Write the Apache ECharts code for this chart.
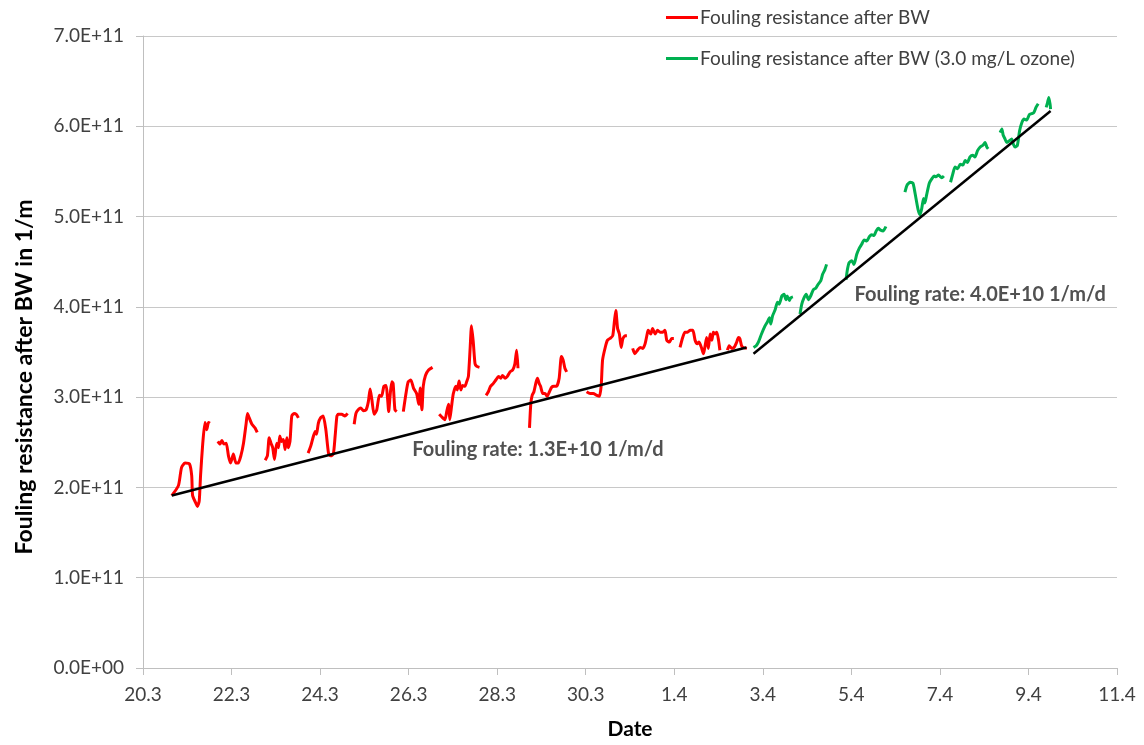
<!DOCTYPE html>
<html><head><meta charset="utf-8">
<script src="https://cdn.jsdelivr.net/npm/echarts@6/dist/echarts.min.js"></script>
<style>html,body{margin:0;padding:0;background:#fff}#c{width:1144px;height:745px}</style>
</head><body><div id="c"></div>
<script>
// x = days since 20.3 (20 March); y values in units of 1E+11 1/m
const UNIT = 1e11;
const xTickLabels = ['20.3','22.3','24.3','26.3','28.3','30.3','1.4','3.4','5.4','7.4','9.4','11.4'];
const yTickLabels = ['0.0E+00','1.0E+11','2.0E+11','3.0E+11','4.0E+11','5.0E+11','6.0E+11','7.0E+11'];
const seriesNames = ['Fouling resistance after BW','Fouling resistance after BW (3.0 mg/L ozone)'];

const red1 = [[0.65,1.91],[0.80,2.02],[0.87,2.22],[0.95,2.27],[1.05,2.26],[1.10,2.13],[1.12,1.91],[1.18,1.84],[1.23,1.79],[1.27,1.85],[1.30,2.13],[1.35,2.49],[1.40,2.72],[1.44,2.64],[1.48,2.72],[1.51,2.71]];
const red2 = [[1.69,2.51],[1.74,2.48],[1.78,2.52],[1.83,2.48],[1.88,2.49],[1.93,2.35],[1.98,2.27],[2.04,2.37],[2.10,2.27],[2.15,2.27],[2.21,2.35],[2.27,2.49],[2.33,2.71],[2.36,2.82],[2.40,2.77],[2.46,2.70],[2.53,2.66],[2.58,2.61]];
const red3 = [[2.76,2.30],[2.81,2.35],[2.85,2.55],[2.89,2.49],[2.93,2.44],[2.97,2.31],[3.02,2.49],[3.06,2.44],[3.09,2.57],[3.13,2.51],[3.17,2.53],[3.21,2.42],[3.25,2.55],[3.28,2.44],[3.32,2.51],[3.36,2.79],[3.41,2.82],[3.46,2.81],[3.51,2.77]];
const red4 = [[3.73,2.38],[3.79,2.46],[3.85,2.57],[3.89,2.62],[3.92,2.59],[3.96,2.71],[4.01,2.77],[4.07,2.79],[4.13,2.64],[4.19,2.38],[4.24,2.35],[4.30,2.37],[4.34,2.57],[4.38,2.79],[4.41,2.81],[4.49,2.81],[4.56,2.79],[4.62,2.82]];
const red5 = [[4.77,2.70],[4.81,2.82],[4.86,2.86],[4.92,2.88],[4.98,2.85],[5.04,2.86],[5.09,2.95],[5.13,3.09],[5.17,2.97],[5.22,2.81],[5.28,2.86],[5.34,3.02],[5.39,3.01],[5.44,3.12],[5.49,3.13],[5.52,3.01],[5.55,2.84],[5.58,3.01],[5.62,3.17],[5.65,3.15],[5.69,2.86],[5.73,2.84]];
const red6 = [[5.88,2.84],[5.94,3.04],[5.99,3.17],[6.05,3.19],[6.11,3.10],[6.18,3.04],[6.23,2.92],[6.26,3.10],[6.30,2.86],[6.33,3.12],[6.38,3.24],[6.45,3.30],[6.54,3.33]];
const red7 = [[6.69,2.81],[6.75,2.78],[6.82,2.75],[6.86,2.84],[6.90,2.92],[6.93,2.75],[6.97,2.90],[7.01,3.04],[7.07,3.12],[7.10,3.08],[7.14,3.18],[7.18,3.08],[7.22,3.13],[7.27,3.12],[7.31,3.17],[7.35,3.23],[7.39,3.55],[7.42,3.79],[7.46,3.61],[7.50,3.37],[7.54,3.34],[7.60,3.33]];
const red8 = [[7.75,3.02],[7.80,3.06],[7.85,3.12],[7.91,3.15],[7.97,3.19],[8.03,3.23],[8.08,3.21],[8.12,3.24],[8.18,3.21],[8.23,3.23],[8.29,3.28],[8.35,3.30],[8.40,3.37],[8.44,3.52],[8.47,3.32]];
const red9 = [[8.73,2.66],[8.76,2.93],[8.79,3.02],[8.83,3.06],[8.88,3.17],[8.91,3.21],[8.95,3.15],[8.98,3.12],[9.03,3.04],[9.08,3.04],[9.13,3.01],[9.18,3.06],[9.23,3.11],[9.28,3.12],[9.34,3.12],[9.40,3.21],[9.45,3.45],[9.49,3.41],[9.53,3.32],[9.57,3.28]];
const red10 = [[10.02,3.06],[10.10,3.04],[10.17,3.04],[10.25,3.02],[10.31,3.01],[10.35,3.13],[10.38,3.41],[10.44,3.55],[10.49,3.63],[10.55,3.65],[10.61,3.68],[10.65,3.85],[10.68,3.96],[10.72,3.76],[10.76,3.70],[10.80,3.55],[10.84,3.65],[10.89,3.68],[10.93,3.68]];
const red11 = [[11.06,3.54],[11.11,3.48],[11.17,3.52],[11.23,3.55],[11.29,3.54],[11.34,3.59],[11.38,3.68],[11.41,3.74],[11.47,3.70],[11.51,3.76],[11.57,3.70],[11.62,3.74],[11.68,3.72],[11.74,3.72],[11.79,3.74],[11.83,3.63],[11.89,3.61],[11.94,3.65],[11.99,3.65]];
const red12 = [[12.13,3.55],[12.19,3.66],[12.24,3.72],[12.30,3.72],[12.36,3.74],[12.42,3.74],[12.47,3.63],[12.52,3.59],[12.56,3.61],[12.62,3.54],[12.66,3.48],[12.69,3.55],[12.73,3.66],[12.77,3.54],[12.81,3.70],[12.85,3.63],[12.88,3.72],[12.92,3.70],[12.96,3.72],[13.00,3.63],[13.03,3.52]];
const red13 = [[13.20,3.52],[13.24,3.57],[13.30,3.54],[13.35,3.55],[13.41,3.61],[13.45,3.66],[13.48,3.65],[13.52,3.57],[13.56,3.55],[13.64,3.54]];

const green1 = [[13.79,3.55],[13.85,3.57],[13.90,3.61],[13.97,3.70],[14.05,3.79],[14.10,3.83],[14.15,3.88],[14.18,3.81],[14.22,3.90],[14.28,3.97],[14.33,4.05],[14.37,4.03],[14.43,4.12],[14.48,4.14],[14.52,4.08],[14.55,4.12],[14.60,4.07],[14.63,4.10],[14.68,4.11]];
const green2 = [[14.84,3.92],[14.88,4.03],[14.93,4.10],[14.98,4.14],[15.03,4.08],[15.08,4.12],[15.14,4.19],[15.20,4.21],[15.25,4.25],[15.31,4.29],[15.35,4.36],[15.40,4.41],[15.44,4.47]];
const green3 = [[15.88,4.30],[15.91,4.41],[15.95,4.49],[16.01,4.51],[16.06,4.47],[16.12,4.58],[16.18,4.65],[16.23,4.69],[16.29,4.74],[16.35,4.73],[16.41,4.78],[16.46,4.80],[16.51,4.79],[16.56,4.84],[16.61,4.87],[16.66,4.85],[16.72,4.84],[16.78,4.89]];
const green4 = [[17.21,5.27],[17.26,5.35],[17.33,5.38],[17.39,5.37],[17.42,5.31],[17.46,5.20],[17.51,5.07],[17.55,5.02],[17.59,5.09],[17.63,5.20],[17.66,5.15],[17.70,5.24],[17.76,5.37],[17.82,5.42],[17.87,5.45],[17.91,5.44],[17.97,5.46],[18.04,5.43],[18.09,5.45]];
const green5 = [[18.24,5.38],[18.29,5.47],[18.34,5.55],[18.40,5.53],[18.46,5.58],[18.52,5.57],[18.57,5.62],[18.62,5.60],[18.68,5.66],[18.74,5.68],[18.79,5.66],[18.85,5.73],[18.91,5.77],[18.97,5.79],[19.02,5.82],[19.06,5.77],[19.09,5.75]];
const green6 = [[19.36,5.93],[19.40,5.97],[19.43,5.90],[19.47,5.86],[19.51,5.82],[19.57,5.84],[19.62,5.86],[19.66,5.80],[19.70,5.77],[19.75,5.79],[19.80,5.95],[19.85,6.04],[19.90,6.08],[19.96,6.07],[20.02,6.13],[20.07,6.14],[20.12,6.15],[20.17,6.21],[20.22,6.25]];
const green7 = [[20.40,6.21],[20.43,6.26],[20.46,6.32],[20.49,6.24],[20.50,6.19]];

const trend1 = [[0.65,1.91],[13.63,3.55]];
const trend2 = [[13.79,3.48],[20.50,6.17]];

const annotationTexts = ['Fouling rate: 1.3E+10 1/m/d','Fouling rate: 4.0E+10 1/m/d'];
const annotationAnchors = [[8.92,2.42],[18.91,4.14]];

const redRuns = [red1,red2,red3,red4,red5,red6,red7,red8,red9,red10,red11,red12,red13];
const greenRuns = [green1,green2,green3,green4,green5,green6,green7];

function joinRuns(runs){
  const out = [];
  runs.forEach((r,i)=>{
    if(i>0) out.push(null);
    r.forEach(p=>out.push([p[0], p[1]*UNIT]));
  });
  return out;
}
const scale = arr => arr.map(p=>[p[0], p[1]*UNIT]);

const FONT = 'Lato';
const chart = echarts.init(document.getElementById('c'), null, {renderer:'canvas'});
chart.setOption({
  backgroundColor:'#ffffff',
  animation:false,
  textStyle:{fontFamily:FONT},
  grid:{left:143, right:27, top:36, bottom:71, containLabel:false},
  legend:{
    data:seriesNames,
    orient:'vertical',
    left:661, top:3,
    itemGap:22,
    itemWidth:32, itemHeight:3,
    icon:'rect',
    textStyle:{fontFamily:FONT, fontSize:19, color:'#404040', padding:[0,0,0,-3]}
  },
  xAxis:{
    type:'value', min:0, max:22, interval:2,
    name:'Date', nameLocation:'middle', nameGap:51,
    nameTextStyle:{fontFamily:FONT, fontSize:21, fontWeight:'bold', color:'#000'},
    axisLine:{show:true, lineStyle:{color:'#bfbfbf', width:1}},
    axisTick:{show:true, length:7, lineStyle:{color:'#bfbfbf'}},
    axisLabel:{margin:17, fontFamily:FONT, fontSize:19, color:'#404040',
      formatter:v=>xTickLabels[Math.round(v/2)]},
    splitLine:{show:false}
  },
  yAxis:{
    type:'value', min:0, max:7*UNIT, interval:UNIT,
    name:'Fouling resistance after BW in 1/m', nameLocation:'middle', nameGap:107, nameRotate:90,
    nameTextStyle:{fontFamily:FONT, fontSize:23, fontWeight:'bold', color:'#000', padding:[0,50,0,0]},
    axisLine:{show:true, lineStyle:{color:'#bfbfbf', width:1}},
    axisTick:{show:true, length:7, lineStyle:{color:'#bfbfbf'}},
    axisLabel:{margin:19, fontFamily:FONT, fontSize:19, color:'#404040',
      formatter:v=>yTickLabels[Math.round(v/UNIT)]},
    splitLine:{show:true, lineStyle:{color:'#c8c8c8', width:1}}
  },
  series:[
    {name:seriesNames[0], type:'line', data:joinRuns(redRuns), showSymbol:false, connectNulls:false,
      smooth:0.2, lineStyle:{color:'#ff0000', width:3}, itemStyle:{color:'#ff0000'}, z:3},
    {name:seriesNames[1], type:'line', data:joinRuns(greenRuns), showSymbol:false, connectNulls:false,
      smooth:0.2, lineStyle:{color:'#00b050', width:3}, itemStyle:{color:'#00b050'}, z:3},
    {name:'trend1', type:'line', data:scale(trend1), showSymbol:false,
      lineStyle:{color:'#000', width:2.5}, z:4, silent:true},
    {name:'trend2', type:'line', data:scale(trend2), showSymbol:false,
      lineStyle:{color:'#000', width:2.5}, z:4, silent:true},
    {name:'annotations', type:'scatter', symbolSize:0, silent:true, z:5,
      data:annotationAnchors.map((p,i)=>({value:[p[0],p[1]*UNIT], label:{formatter:annotationTexts[i]}})),
      label:{show:true, position:'inside', fontFamily:FONT, fontSize:20, fontWeight:'bold', color:'#262626'}}
  ]
});
</script></body></html>
